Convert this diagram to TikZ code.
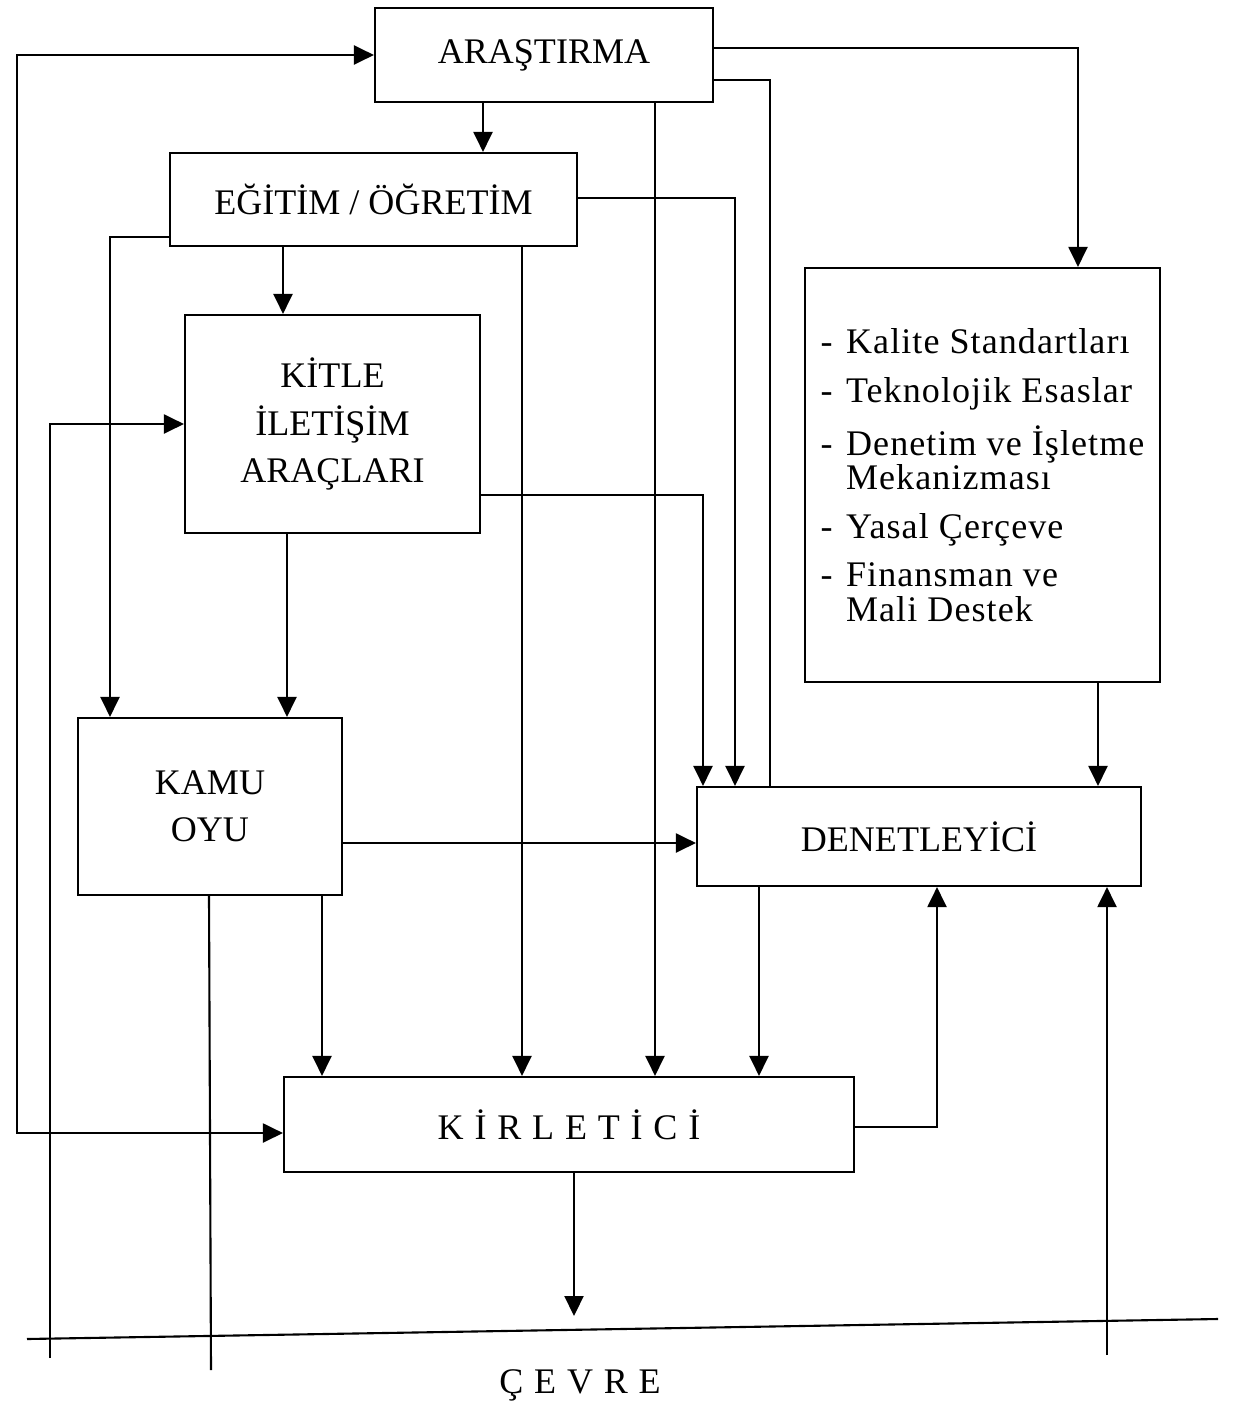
\documentclass[tikz,border=0pt]{standalone}
\usepackage{fontspec}
\setmainfont{Liberation Serif}
\usetikzlibrary{positioning,calc,arrows,arrows.meta}
\tikzset{font=\fontsize{20.5}{27}\selectfont}
\newcommand{\madde}{\makebox[14.5pt][l]{-}}

\begin{document}
\begin{tikzpicture}[x=0.2mm, y=-0.2mm, line width=1.2pt,
	>={Triangle[length=0.4cm, width=0.38cm]}]
	\useasboundingbox (0,0) rectangle (1235,1409);
	\begin{scope}
		\tikzstyle{kutu}=[draw, align=center, inner sep=0pt]
		\node[kutu, minimum width=6.76cm, minimum height=1.88cm] (arastirma) at (544, 55) {ARAŞTIRMA};
		\node[kutu, minimum width=8.14cm, minimum height=1.86cm] (egitim) at (373.5, 199.5) {EĞİTİM / ÖĞRETİM};
		\node[kutu, minimum width=5.9cm, minimum height=4.36cm] (kitle) at (332.5, 424) {KİTLE\\İLETİŞİM\\ARAÇLARI};
		\node[kutu, minimum width=5.28cm, minimum height=3.54cm] (kamu) at (210, 806.5) {KAMU\\OYU};
		\node[kutu, minimum width=7.1cm, minimum height=8.28cm, align=left,
			font=\fontsize{20.5}{19.6}\selectfont\addfontfeature{LetterSpace=3}] (liste) at (982.5, 475)
			{\madde Kalite Standartları\\[8pt]
			 \madde Teknolojik Esaslar\\[8pt]
			 \madde Denetim ve İşletme\\
			 \hspace*{14.5pt}Mekanizması\\[8pt]
			 \madde Yasal Çerçeve\\[8pt]
			 \madde Finansman ve\\
			 \hspace*{14.5pt}Mali Destek};
		\node[kutu, minimum width=8.88cm, minimum height=1.98cm] (denet) at (919, 836.5) {DENETLEYİCİ};
		\node[kutu, minimum width=11.4cm, minimum height=1.9cm,
			font=\fontsize{20.5}{27}\selectfont\addfontfeature{LetterSpace=30}] (kirlet) at (569, 1124.5) {KİRLETİCİ};
		\node[font=\fontsize{20.5}{27}\selectfont\addfontfeature{LetterSpace=30}] (cevre) at (580, 1385) {ÇEVRE};
		
		\coordinate (cevreA) at (50, 1358);
		\coordinate (cevreB) at (211, 1370);
		\coordinate (cevreC) at (1107, 1355);
		\coordinate (cevreOk) at (574, 1316);
		
		\draw (27, 1339) -- (1218, 1319);
		
		\draw[->] (483,0 |- arastirma.south) -- (483,0 |- egitim.north);
		\draw[->] (283,0 |- egitim.south) -- (283,0 |- kitle.north);
		\draw[->] (287,0 |- kitle.south) -- (287,0 |- kamu.north);
		\draw[->] (655,0 |- arastirma.south) -- (655,0 |- kirlet.north);
		\draw[->] (522,0 |- egitim.south) -- (522,0 |- kirlet.north);
		\draw[->] (322,0 |- kamu.south) -- (322,0 |- kirlet.north);
		\draw[->] (759,0 |- denet.south) -- (759,0 |- kirlet.north);
		\draw[->] (1098,0 |- liste.south) -- (1098,0 |- denet.north);
		\draw[->] (kamu.east |- 0,843) -- (denet.west |- 0,843);
		\draw[->] (574,0 |- kirlet.south) -- (cevreOk);
		
		\draw[->] (arastirma.east |- 0,48) -| (1078,0 |- liste.north);
		\draw     (arastirma.east |- 0,80) -| (770,0 |- denet.north);
		\draw[->] (egitim.east |- 0,198) -| (735,0 |- denet.north);
		\draw[->] (kitle.east |- 0,495) -| (703,0 |- denet.north);
		\draw[->] (egitim.west |- 0,237) -| (110,0 |- kamu.north);
		\draw[->] (kirlet.east |- 0,1127) -| (937,0 |- denet.south);
		\draw[->] (cevreC) -- (1107,0 |- denet.south);
		\draw     (209,0 |- kamu.south) -- (cevreB);
		\draw[->] (cevreA) |- (kitle.west);
		\draw[<->] (arastirma.west) -| (17, 1133) -- (kirlet.west |- 0,1133);
	\end{scope}
\end{tikzpicture}
\end{document}
